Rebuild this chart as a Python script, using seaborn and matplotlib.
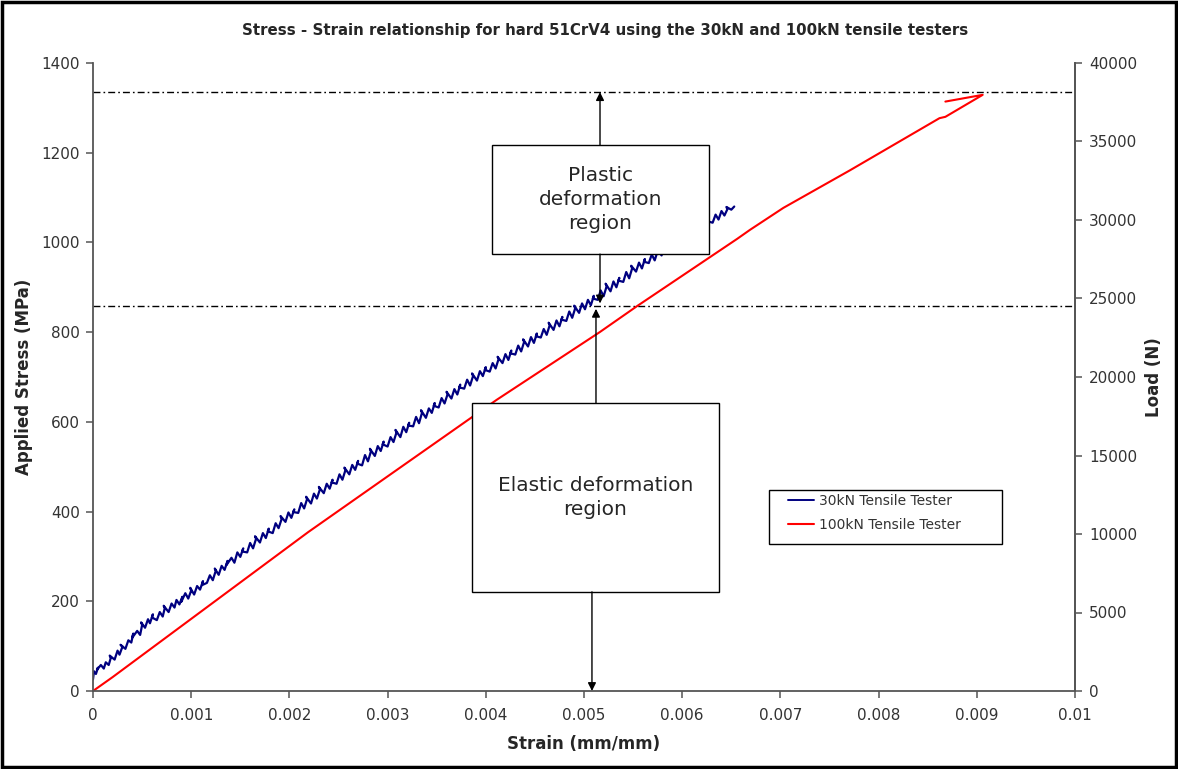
import numpy as np
import pandas as pd
import matplotlib
matplotlib.use("Agg")
import matplotlib.pyplot as plt
from matplotlib.patches import Rectangle
from matplotlib.lines import Line2D
from matplotlib.ticker import FixedLocator, FixedFormatter
import seaborn as sns

# ---- data -------------------------------------------------------------
strain_ticks = [0, 0.001, 0.002, 0.003, 0.004, 0.005, 0.006, 0.007, 0.008, 0.009, 0.01]
strain_tick_labels = ["0", "0.001", "0.002", "0.003", "0.004", "0.005",
                      "0.006", "0.007", "0.008", "0.009", "0.01"]
stress_ticks = [0, 200, 400, 600, 800, 1000, 1200, 1400]
load_ticks = [0, 5000, 10000, 15000, 20000, 25000, 30000, 35000, 40000]

# 30kN tester (noisy extensometer trace)
strain_30kn = [
    0.00000, 0.00001, 0.00003, 0.00005, 0.00004, 0.00008, 0.00011, 0.00013, 0.00016, 0.00018, 0.00017, 0.00022, 0.00025, 0.00027, 0.00030, 0.00028, 0.00033, 0.00036, 0.00039, 0.00041, 0.00040, 0.00045, 0.00048, 0.00050, 0.00049,
    0.00053, 0.00056, 0.00058, 0.00061, 0.00060, 0.00065, 0.00068, 0.00071, 0.00073, 0.00072, 0.00077, 0.00080, 0.00083, 0.00085, 0.00088, 0.00091, 0.00090, 0.00094, 0.00097, 0.00100,
    0.00099, 0.00103, 0.00106, 0.00109, 0.00112, 0.00111, 0.00116, 0.00119, 0.00122, 0.00125, 0.00124, 0.00128, 0.00131, 0.00134, 0.00137, 0.00136, 0.00141, 0.00144, 0.00147, 0.00150,
    0.00153, 0.00152, 0.00157, 0.00160, 0.00163, 0.00166, 0.00165, 0.00170, 0.00173, 0.00176, 0.00179, 0.00178, 0.00183, 0.00186, 0.00189, 0.00192, 0.00191, 0.00196, 0.00199, 0.00202,
    0.00205, 0.00204, 0.00209, 0.00212, 0.00215, 0.00218, 0.00217, 0.00222, 0.00225, 0.00228, 0.00231, 0.00230, 0.00235, 0.00238, 0.00241, 0.00244, 0.00243, 0.00248, 0.00251,
    0.00254, 0.00257, 0.00256, 0.00261, 0.00264, 0.00267, 0.00270, 0.00269, 0.00274, 0.00277, 0.00280, 0.00283, 0.00282, 0.00287, 0.00290, 0.00293, 0.00296, 0.00295, 0.00300,
    0.00303, 0.00306, 0.00309, 0.00308, 0.00313, 0.00316, 0.00319, 0.00322, 0.00321, 0.00326, 0.00329, 0.00332, 0.00335, 0.00334, 0.00339, 0.00342, 0.00345, 0.00348, 0.00347,
    0.00352, 0.00355, 0.00358, 0.00361, 0.00360, 0.00365, 0.00368, 0.00371, 0.00374, 0.00373, 0.00378, 0.00381, 0.00384, 0.00387, 0.00386, 0.00391, 0.00394, 0.00397, 0.00400,
    0.00399, 0.00404, 0.00407, 0.00410, 0.00413, 0.00412, 0.00417, 0.00420, 0.00423, 0.00426, 0.00425, 0.00430, 0.00433, 0.00436, 0.00439, 0.00438, 0.00443, 0.00446, 0.00449,
    0.00452, 0.00451, 0.00456, 0.00459, 0.00462, 0.00465, 0.00464, 0.00469, 0.00472, 0.00475, 0.00478, 0.00477, 0.00482, 0.00485, 0.00488, 0.00491, 0.00490, 0.00495, 0.00498,
    0.00501, 0.00504, 0.00507, 0.00510, 0.00509, 0.00514, 0.00517, 0.00520, 0.00523, 0.00522, 0.00527, 0.00530, 0.00533, 0.00536, 0.00535, 0.00540, 0.00543, 0.00546, 0.00549,
    0.00548, 0.00553, 0.00556, 0.00559, 0.00562, 0.00561, 0.00566, 0.00569, 0.00572, 0.00575, 0.00574, 0.00579, 0.00582, 0.00585, 0.00588, 0.00587, 0.00592, 0.00595, 0.00598,
    0.00601, 0.00600, 0.00605, 0.00608, 0.00611, 0.00614, 0.00613, 0.00618, 0.00621, 0.00624, 0.00627, 0.00626, 0.00631, 0.00634, 0.00637, 0.00640, 0.00643, 0.00646, 0.00645, 0.00650, 0.00653,
]
stress_30kn = [
    26, 44, 38, 52, 47, 58, 50, 64, 58, 73, 79, 70, 90, 81, 99, 103, 94, 113, 108, 128, 119, 134, 125, 147, 153,
    141, 160, 151, 171, 164, 158, 176, 166, 184, 190, 176, 195, 186, 203, 193, 210, 199, 218, 206, 224,
    230, 215, 234, 226, 245, 236, 241, 258, 247, 268, 273, 259, 279, 270, 290, 281, 297, 286, 309, 299,
    318, 311, 309, 330, 318, 339, 345, 331, 352, 341, 362, 356, 352, 374, 363, 383, 390, 377, 398, 386,
    405, 399, 397, 419, 407, 428, 433, 418, 440, 429, 449, 455, 441, 462, 451, 471, 465, 462, 483,
    471, 492, 498, 483, 504, 493, 513, 507, 503, 526, 512, 534, 540, 524, 546, 535, 556, 550, 545,
    566, 555, 576, 582, 566, 589, 577, 598, 592, 590, 611, 597, 620, 626, 609, 630, 620, 642, 636,
    632, 653, 641, 661, 667, 652, 673, 661, 683, 677, 674, 694, 681, 702, 708, 692, 713, 702, 722,
    716, 712, 731, 719, 740, 745, 731, 751, 738, 759, 753, 750, 770, 757, 778, 784, 768, 789, 776,
    797, 791, 788, 807, 794, 815, 821, 805, 826, 813, 834, 828, 825, 846, 832, 853, 859, 843, 864,
    851, 872, 860, 881, 875, 872, 893, 880, 902, 908, 891, 913, 900, 921, 915, 912, 934, 920, 942,
    948, 935, 955, 942, 963, 957, 954, 973, 960, 981, 987, 971, 992, 979, 999, 994, 991, 1011, 998,
    1018, 1013, 1009, 1028, 1015, 1035, 1040, 1025, 1046, 1033, 1052, 1047, 1044, 1062, 1051, 1070, 1060, 1074, 1079, 1073, 1080,
]

# 100kN tester
strain_100kn = [0.0, 0.00020, 0.00126, 0.00219, 0.00411, 0.00516, 0.00554,
                0.00656, 0.00669, 0.00703, 0.00771, 0.00862, 0.00868,
                0.00906, 0.00868]
stress_100kn = [0, 31, 203, 354, 649, 800, 858,
                1008, 1028, 1077, 1161, 1277, 1280,
                1329, 1314]

# stress levels bounding the deformation regions
yield_stress = 858
ultimate_stress = 1335

# ---- figure -----------------------------------------------------------
sns.set_theme(style="white")
plt.rcParams["font.family"] = ["DejaVu Sans"]

W, H = 1178, 769
fig = plt.figure(figsize=(W / 100, H / 100), dpi=100)
ax = fig.add_axes([93 / W, (H - 691) / H, (1075 - 93) / W, (691 - 63) / H])

df30 = pd.DataFrame({"strain": strain_30kn, "stress": stress_30kn})
df100 = pd.DataFrame({"strain": strain_100kn, "stress": stress_100kn})

blue, red = "#000080", "#ff0000"
sns.lineplot(data=df30, x="strain", y="stress", sort=False, estimator=None,
             color=blue, lw=1.6, ax=ax, legend=False)
sns.lineplot(data=df100, x="strain", y="stress", sort=False, estimator=None,
             color=red, lw=1.5, ax=ax, legend=False)

for level in (ultimate_stress, yield_stress):
    ax.axhline(level, color="black", lw=1.0, dashes=(5, 2.2, 1.2, 2.2), zorder=1)

ax.set_xlim(0, 0.01)
ax.set_ylim(0, 1400)
ax.xaxis.set_major_locator(FixedLocator(strain_ticks))
ax.xaxis.set_major_formatter(FixedFormatter(strain_tick_labels))
ax.set_yticks(stress_ticks)

axis_col = "#555555"
label_col = "#333333"
for side in ("left", "bottom", "right"):
    ax.spines[side].set_color(axis_col)
    ax.spines[side].set_linewidth(1.3)
ax.spines["top"].set_visible(False)
ax.tick_params(axis="x", direction="out", length=5, width=1.1, color=axis_col,
               labelsize=11, labelcolor=label_col, pad=7, bottom=True)
ax.tick_params(axis="y", direction="out", length=5, width=1.1, color=axis_col,
               labelsize=11, labelcolor=label_col, pad=4.5, left=True)
ax.set_xlabel("Strain (mm/mm)", fontsize=12, fontweight="bold", labelpad=9)
ax.set_ylabel("Applied Stress (MPa)", fontsize=12, fontweight="bold", labelpad=6)

ax2 = ax.twinx()
ax2.set_ylim(0, 40000)
ax2.set_yticks(load_ticks)
for side in ("top", "left", "bottom"):
    ax2.spines[side].set_visible(False)
ax2.spines["right"].set_color(axis_col)
ax2.spines["right"].set_linewidth(1.3)
ax2.tick_params(axis="y", direction="out", length=5, width=1.1, color=axis_col,
                labelsize=11, labelcolor=label_col, pad=5, right=True)
ax2.set_ylabel("Load (N)", fontsize=12, fontweight="bold", labelpad=6)
ax2.yaxis.set_label_position("right")
ax2.grid(False)
ax.grid(False)

# region boxes
def region_box(x0, x1, y0, y1, text):
    ax.add_patch(Rectangle((x0, y0), x1 - x0, y1 - y0, facecolor="white",
                           edgecolor="black", lw=1.0, zorder=4))
    ax.text((x0 + x1) / 2, (y0 + y1) / 2, text, ha="center", va="center",
            fontsize=14.5, linespacing=1.36, zorder=5)

region_box(0.004063, 0.006273, 974, 1217, "Plastic\ndeformation\nregion")
region_box(0.003859, 0.006375, 221, 642, "Elastic deformation\nregion")

arrow = dict(arrowstyle="-|>", color="black", lw=1.0, mutation_scale=12,
             shrinkA=0, shrinkB=0)
ax.annotate("", xy=(0.005163, ultimate_stress), xytext=(0.005163, 1217),
            arrowprops=arrow, zorder=6)
ax.annotate("", xy=(0.005163, yield_stress + 6), xytext=(0.005163, 974),
            arrowprops=arrow, zorder=6)
ax.annotate("", xy=(0.005122, yield_stress - 6), xytext=(0.005122, 642),
            arrowprops=arrow, zorder=6)
ax.annotate("", xy=(0.005081, 0), xytext=(0.005081, 221),
            arrowprops=arrow, zorder=6)

# legend with a plain rectangular frame
handles = [Line2D([], [], color=blue, lw=1.4), Line2D([], [], color=red, lw=1.5)]
leg = ax.legend(handles, ["30kN Tensile Tester", "100kN Tensile Tester"],
                loc="upper left", bbox_to_anchor=((788 - 93) / 982, (691 - 494) / 628),
                fontsize=10, frameon=False, handlelength=1.9, handletextpad=0.3,
                borderpad=0, labelspacing=0.72, borderaxespad=0)
for t in leg.get_texts():
    t.set_color(label_col)
ax.add_patch(Rectangle(((769 - 93) / 982, (691 - 544) / 628), (1002 - 769) / 982,
                       (544 - 490) / 628, transform=ax.transAxes, fill=False,
                       edgecolor="black", lw=1.0, zorder=7))

fig.text(605 / W, 1 - 30 / H,
         "Stress - Strain relationship for hard 51CrV4 using the 30kN and 100kN tensile testers",
         ha="center", va="center", fontsize=10.8, fontweight="bold")

fig.add_artist(Rectangle((2 / W, 2 / H), (W - 4) / W, (H - 4) / H,
                         transform=fig.transFigure, fill=False,
                         edgecolor="black", lw=2.5))

fig.savefig("out.png", dpi=100)
